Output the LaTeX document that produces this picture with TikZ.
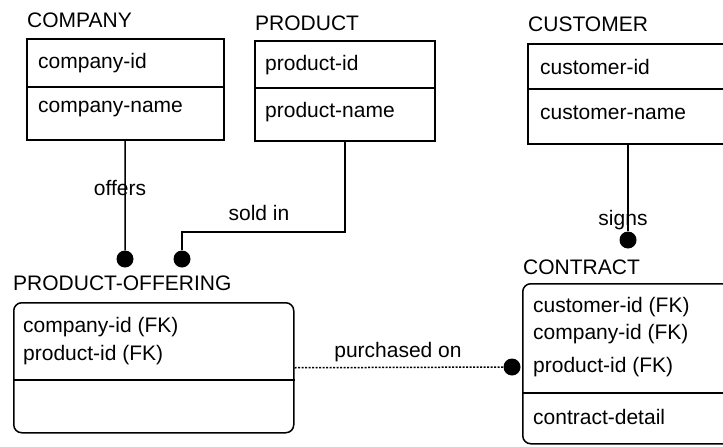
\documentclass[tikz,border=0pt]{standalone}
\usepackage{fontspec}
\setmainfont{Liberation Sans}

\tikzset{
  label/.style={font=\fontsize{21}{24}\selectfont, inner sep=0pt},
  entity/.style={draw, line width=1.5pt, anchor=north west, inner sep=0pt},
  weakentity/.style={entity, rounded corners=8pt},
  rel/.style={line width=1.5pt},
  dot/.style={circle, fill=black, inner sep=0pt, minimum size=17pt}
}

\begin{document}
\begin{tikzpicture}[x=1pt,y=-1pt]
\useasboundingbox (0,0) rectangle (723,447);

\node[label,right] (companyTitle) at (27,20){COMPANY};
\node[entity,minimum width=197pt,minimum height=101pt] (company) at (26,38){};
\draw[rel] (company.west |- 0,87) -- (company.east |- 0,87);
\node[label,right] (companyId) at (38,63){company-id};
\node[label,right] (companyName) at (38,109){company-name};

\node[label,right] (productTitle) at (255,23){PRODUCT};
\node[entity,minimum width=180pt,minimum height=100pt] (product) at (254,40){};
\draw[rel] (product.west |- 0,88) -- (product.east |- 0,88);
\node[label,right] (productId) at (265,65){product-id};
\node[label,right] (productName) at (265,112){product-name};

\node[label,right] (customerTitle) at (528,24){CUSTOMER};
\node[entity,minimum width=230pt,minimum height=100pt] (customer) at (527,43){};
\draw[rel] (customer.west |- 0,89) -- (customer.east |- 0,89);
\node[label,right] (customerId) at (540,67){customer-id};
\node[label,right] (customerName) at (540,113){customer-name};

\node[label,right] (offeringTitle) at (13,283){PRODUCT-OFFERING};
\node[weakentity,minimum width=280pt,minimum height=130pt] (offering) at (13,302){};
\draw[rel] (offering.west |- 0,380) -- (offering.east |- 0,380);
\node[label,right] (offeringCompanyId) at (23,327){company-id (FK)};
\node[label,right] (offeringProductId) at (23,355){product-id (FK)};

\node[label,right] (contractTitle) at (523,267){CONTRACT};
\node[weakentity,minimum width=240pt,minimum height=160pt] (contract) at (522,283){};
\draw[rel] (contract.west |- 0,393) -- (contract.east |- 0,393);
\node[label,right] (contractCustomerId) at (533,307){customer-id (FK)};
\node[label,right] (contractCompanyId) at (533,334){company-id (FK)};
\node[label,right] (contractProductId) at (533,367){product-id (FK)};
\node[label,right] (contractDetail) at (533,417){contract-detail};

% relationships
\node[dot] (offersDot) at (125,259){};
\draw[rel] (company.south) -- (offersDot);
\node[label] (offers) at (120,188){offers};

\node[dot] (soldDot) at (182,259){};
\coordinate (soldBend) at (182,232);
\draw[rel] (soldDot) -- (soldBend) -| (product.south);
\node[label] (soldIn) at (259,213){sold in};

\node[dot] (signsDot) at (628,240){};
\draw[rel] (signsDot) -- (signsDot |- customer.south);
\node[label] (signs) at (623,220){signs};

\node[dot] (purchasedDot) at (512,367){};
\draw[rel,dash pattern=on 2pt off 1.5pt] (offering.east) -- (purchasedDot);
\node[label] (purchasedOn) at (398,352){purchased on};
\end{tikzpicture}
\end{document}
